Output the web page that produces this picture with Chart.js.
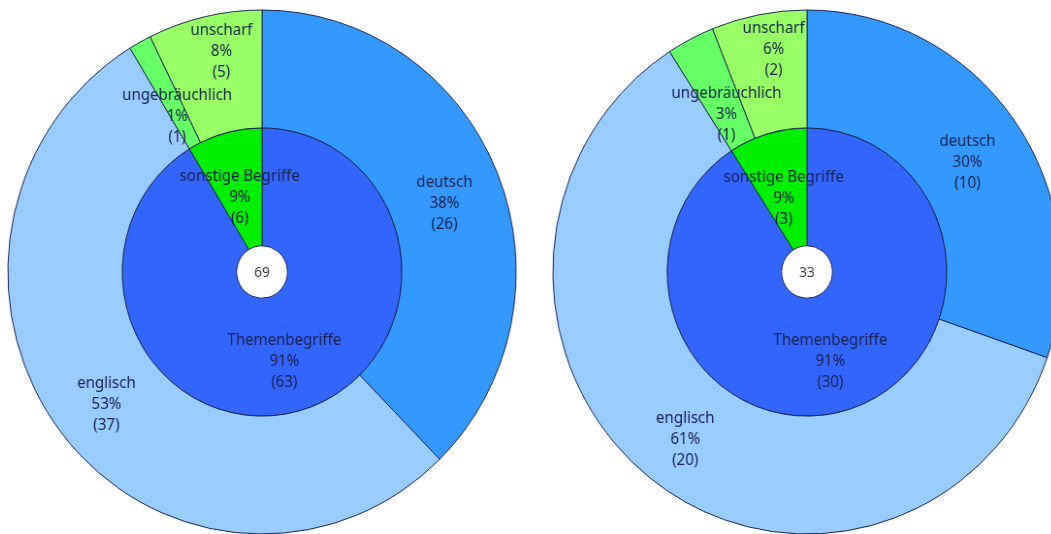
<!DOCTYPE html>
<html>
<head>
<meta charset="utf-8">
<script src="https://cdn.jsdelivr.net/npm/chart.js@4/dist/chart.umd.min.js"></script>
<style>
  html, body { margin: 0; padding: 0; background: #fff; }
  body { position: relative; width: 1051px; height: 534px; overflow: hidden; }
  .wrap { position: absolute; top: 0; width: 540px; height: 544px; transform: scaleX(0.97); transform-origin: 50% 50%; }
  #leftWrap { left: -8px; }
  #rightWrap { left: 537px; }
</style>
</head>
<body>
<div class="wrap" id="leftWrap"><canvas id="leftChart" width="540" height="544"></canvas></div>
<div class="wrap" id="rightWrap"><canvas id="rightChart" width="540" height="544"></canvas></div>
<script>
// Categories: inner ring = main groups, outer ring = sub-groups (parent index in outerParent)
const innerCategories = ['Themenbegriffe', 'sonstige Begriffe'];
const outerCategories = ['deutsch', 'englisch', 'ungebräuchlich', 'unscharf'];
const outerParent = [0, 0, 1, 1];

// Counts, left sunburst
const leftInner = [63, 6];
const leftOuter = [26, 37, 1, 5];

// Counts, right sunburst
const rightInner = [30, 3];
const rightOuter = [10, 20, 1, 2];

const innerColors = ['#3366ff', '#00f000'];
const outerColors = ['#3399ff', '#99ccff', '#66ff66', '#99ff66'];
const BORDER = '#1c2550';
const TEXT = '#1b2049';
const FONT = '15.5px "Noto Sans", sans-serif';
const LINE = 21;
const DROP = 8;

// Inner percentages of the total; outer percentages share out their parent's rounded percentage
function percents(inner, outer) {
  const total = inner.reduce((a, b) => a + b, 0);
  const innerPct = inner.map(v => Math.round(v / total * 100));
  const outerPct = outer.map(() => 0);
  inner.forEach((pv, p) => {
    const idx = outer.map((v, i) => i).filter(i => outerParent[i] === p);
    const exact = idx.map(i => outer[i] * innerPct[p] / pv);
    const fl = exact.map(Math.floor);
    const rest = innerPct[p] - fl.reduce((a, b) => a + b, 0);
    const order = idx.map((_, k) => k).sort((a, b) =>
      ((exact[b] - fl[b]) - (exact[a] - fl[a])) || (outer[idx[b]] - outer[idx[a]]));
    for (let k = 0; k < rest; k++) fl[order[k]]++;
    idx.forEach((i, k) => { outerPct[i] = fl[k]; });
  });
  return { total, innerPct, outerPct };
}

// Draws the three-line labels at each arc's centre and the total in the hole
const ringLabels = {
  id: 'ringLabels',
  afterDatasetsDraw(chart) {
    const ctx = chart.ctx;
    ctx.save();
    ctx.font = FONT;
    ctx.fillStyle = TEXT;
    ctx.textAlign = 'center';
    ctx.textBaseline = 'middle';
    chart.data.datasets.forEach((ds, di) => {
      const meta = chart.getDatasetMeta(di);
      const blocks = meta.data.map((arc, j) => {
        const p = arc.tooltipPosition();
        const lines = [ds.names[j], ds.pct[j] + '%', '(' + ds.data[j] + ')'];
        const w = Math.max(...lines.map(l => ctx.measureText(l).width));
        return { x: p.x, y: p.y, w, lines, moved: false };
      });
      // push apart labels of neighbouring narrow slices
      const minDy = 3 * LINE + 2;
      for (let j = 0; j < blocks.length; j++) {
        for (let k = j + 1; k < blocks.length; k++) {
          const a = blocks[j], b = blocks[k];
          if (Math.abs(a.x - b.x) < (a.w + b.w) / 2 && Math.abs(a.y - b.y) < minDy) {
            const mid = (a.y + b.y) / 2;
            const up = a.y <= b.y ? a : b;
            const down = up === a ? b : a;
            up.y = mid - minDy / 2;
            down.y = mid + minDy / 2;
            up.x += 4;
            down.x += 10;
            a.moved = b.moved = true;
          }
        }
      }
      blocks.forEach(b => {
        const cy = b.y + (b.moved ? 0 : DROP);
        b.lines.forEach((l, n) => ctx.fillText(l, b.x, cy + (n - 1) * LINE));
      });
    });
    const c = chart.getDatasetMeta(0).data[0];
    ctx.font = '14px "Noto Sans", sans-serif';
    ctx.fillStyle = '#3a3a3a';
    ctx.fillText(String(chart.options.plugins.ringLabels.total), c.x, c.y + 1);
    ctx.restore();
  }
};

function makeSunburst(id, inner, outer) {
  const { total, innerPct, outerPct } = percents(inner, outer);
  return new Chart(document.getElementById(id), {
    type: 'doughnut',
    data: {
      labels: outerCategories,
      datasets: [
        {
          data: outer,
          names: outerCategories,
          pct: outerPct,
          backgroundColor: outerColors,
          borderColor: BORDER,
          borderWidth: 1
        },
        {
          data: inner,
          names: innerCategories,
          pct: innerPct,
          backgroundColor: innerColors,
          borderColor: BORDER,
          borderWidth: 1
        }
      ]
    },
    options: {
      responsive: false,
      animation: false,
      radius: 262,
      cutout: 27,
      layout: { padding: 0 },
      plugins: {
        legend: { display: false },
        tooltip: { enabled: false },
        ringLabels: { total }
      }
    },
    plugins: [ringLabels]
  });
}

makeSunburst('leftChart', leftInner, leftOuter);
makeSunburst('rightChart', rightInner, rightOuter);
</script>
</body>
</html>
